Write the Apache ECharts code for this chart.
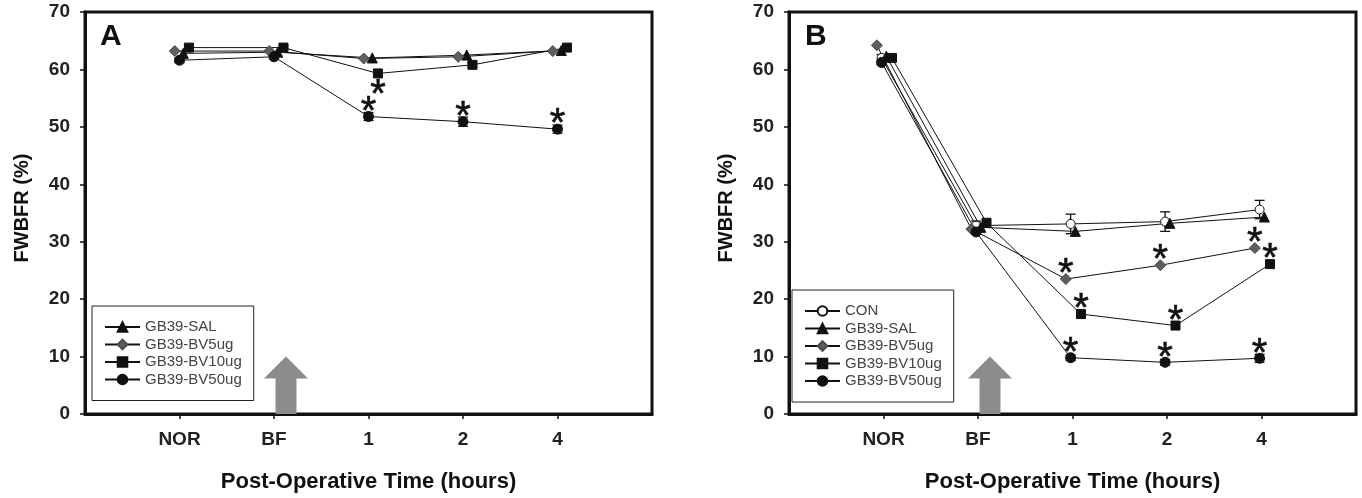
<!DOCTYPE html>
<html><head><meta charset="utf-8">
<script src="https://cdn.jsdelivr.net/npm/echarts@6/dist/echarts.min.js"></script>
<style>html,body{margin:0;padding:0;background:#fff}#c{width:1362px;height:498px}</style>
</head><body><div id="c"></div>
<script>
// ---------- DATA ----------
const categories = ['NOR', 'BF', '1', '2', '4'];
const yTicks = [0, 10, 20, 30, 40, 50, 60, 70];
const xAxisTitle = 'Post-Operative Time (hours)';
const yAxisTitle = 'FWBFR (%)';

// Panel A
const A_SAL  = [62.8, 63.0, 62.0, 62.5, 63.3];
const A_BV5  = [63.2, 63.2, 61.9, 62.2, 63.2];
const A_BV10 = [63.8, 63.8, 59.3, 60.8, 63.8];
const A_BV50 = [61.6, 62.2, 51.8, 50.9, 49.6];
const A_BV10_err = [0.3, 0.3, 0.4, 0.4, 0.5];
const A_BV50_err = [0.4, 0.4, 0.7, 0.8, 0.7];
const A_BV10_sig = [0, 0, 1, 0, 0];
const A_BV50_sig = [0, 0, 1, 1, 1];

// Panel B
const B_CON  = [62.0, 32.8, 33.1, 33.5, 35.6];
const B_SAL  = [62.3, 32.5, 31.8, 33.2, 34.3];
const B_BV5  = [64.2, 32.2, 23.5, 25.9, 28.9];
const B_BV10 = [62.0, 33.3, 17.4, 15.4, 26.1];
const B_BV50 = [61.2, 31.7, 9.8, 9.0, 9.7];
const B_CON_err  = [0.6, 0.8, 1.7, 1.7, 1.6];
const B_BV50_err = [0.4, 0.4, 0.5, 0.5, 0.7];
const B_BV5_sig  = [0, 0, 1, 1, 1];
const B_BV10_sig = [0, 0, 1, 1, 1];
const B_BV50_sig = [0, 0, 1, 1, 1];

const arrowAt = 'BF';
const arrowTip = 10;

// ---------- STYLE ----------
const FONT = '"Liberation Sans", Arial, sans-serif';
const INK = '#111';
const STY = {
  'CON':         {symbol: 'circle',   size: 9,  fill: '#ffffff', border: '#111'},
  'GB39-SAL':    {symbol: 'triangle', size: 10, fill: '#111',    border: '#111'},
  'GB39-BV5ug':  {symbol: 'diamond',  size: 11, fill: '#5e5e5e', border: '#4a4a4a'},
  'GB39-BV10ug': {symbol: 'rect',     size: 9,  fill: '#111',    border: '#111'},
  'GB39-BV50ug': {symbol: 'circle',   size: 10, fill: '#111',    border: '#111'}
};
const DODGE_A = {'GB39-SAL': 0.04, 'GB39-BV5ug': -0.05, 'GB39-BV10ug': 0.1, 'GB39-BV50ug': 0};
const DODGE_B = {'CON': -0.02, 'GB39-SAL': 0.03, 'GB39-BV5ug': -0.07, 'GB39-BV10ug': 0.09, 'GB39-BV50ug': -0.02};

function lineSeries(panel, name, vals, dodge) {
  const s = STY[name];
  return {
    type: 'line', name: name, xAxisIndex: panel, yAxisIndex: panel, z: 3,
    data: vals.map((v, i) => [i + 1 + dodge, v]),
    symbol: s.symbol, symbolSize: s.size, showAllSymbol: true,
    lineStyle: {color: INK, width: 1},
    itemStyle: {color: s.fill, borderColor: s.border, borderWidth: 1, opacity: 1},
    emphasis: {disabled: true}, animation: false
  };
}
function errSeries(panel, vals, errs, dodge) {
  return {
    type: 'custom', xAxisIndex: panel, yAxisIndex: panel, z: 2, silent: true, animation: false,
    encode: {x: 0, y: 1},
    data: vals.map((v, i) => [i + 1 + dodge, v, errs[i]]),
    renderItem: (params, api) => {
      const x = api.value(0), y = api.value(1), e = api.value(2);
      const t = api.coord([x, y + e]), b = api.coord([x, y - e]);
      const w = 5, st = {stroke: INK, lineWidth: 1.3};
      return {type: 'group', children: [
        {type: 'line', shape: {x1: t[0], y1: t[1], x2: b[0], y2: b[1]}, style: st},
        {type: 'line', shape: {x1: t[0] - w, y1: t[1], x2: t[0] + w, y2: t[1]}, style: st},
        {type: 'line', shape: {x1: b[0] - w, y1: b[1], x2: b[0] + w, y2: b[1]}, style: st}
      ]};
    }
  };
}
function starSeries(panel, vals, sig, dodge, dir) {
  const fs = 40;
  return {
    type: 'custom', xAxisIndex: panel, yAxisIndex: panel, z: 5, silent: true, animation: false,
    encode: {x: 0, y: 1},
    data: vals.map((v, i) => [i + 1 + dodge, v]).filter((d, i) => sig[i]),
    renderItem: (params, api) => {
      const p = api.coord([api.value(0), api.value(1)]);
      return {type: 'text', x: p[0], y: p[1] + dir * 13 + fs * 0.23,
        style: {text: '*', fontSize: fs, fontFamily: FONT, fill: INK, align: 'center', verticalAlign: 'middle',
          stroke: INK, lineWidth: 0.6}};
    }
  };
}
function arrowSeries(panel) {
  return {
    type: 'custom', xAxisIndex: panel, yAxisIndex: panel, z: 1, silent: true, animation: false,
    encode: {x: 0, y: 1},
    data: [[categories.indexOf(arrowAt) + 1, arrowTip]],
    renderItem: (params, api) => {
      const tip = api.coord([api.value(0), api.value(1)]);
      const base = api.coord([api.value(0), 0]);
      const cx = tip[0] + 12, hw = 22, bw = 10.5, hl = 22;
      return {type: 'polygon', shape: {points: [
        [cx, tip[1]], [cx + hw, tip[1] + hl], [cx + bw, tip[1] + hl], [cx + bw, base[1]],
        [cx - bw, base[1]], [cx - bw, tip[1] + hl], [cx - hw, tip[1] + hl]
      ]}, style: {fill: '#8c8c8c'}};
    }
  };
}

const tickVals = categories.map((c, i) => i + 1);
function xAx(i) {
  return {
    gridIndex: i, type: 'value', min: 0, max: 6, interval: 1,
    axisLine: {show: true, onZero: false, lineStyle: {color: INK, width: 3}},
    axisTick: {show: true, customValues: tickVals, length: 5, lineStyle: {color: INK, width: 1.5}},
    axisLabel: {customValues: tickVals, formatter: v => categories[Math.round(v) - 1] || '',
      fontSize: 19, fontWeight: 'bold', color: '#222', fontFamily: FONT, margin: 16},
    splitLine: {show: false},
    name: xAxisTitle, nameLocation: 'middle', nameGap: 57,
    nameTextStyle: {fontSize: 22, fontWeight: 'bold', color: '#111', fontFamily: FONT}
  };
}
function yAx(i) {
  return {
    gridIndex: i, type: 'value', min: yTicks[0], max: yTicks[yTicks.length - 1], interval: yTicks[1] - yTicks[0],
    axisLine: {show: true, lineStyle: {color: INK, width: 3}},
    axisTick: {show: true, length: 5, lineStyle: {color: INK, width: 1.5}},
    axisLabel: {fontSize: 19, fontWeight: 'bold', color: '#222', fontFamily: FONT, margin: 15},
    splitLine: {show: false},
    name: yAxisTitle, nameLocation: 'middle', nameGap: 53,
    nameTextStyle: {fontSize: 20, fontWeight: 'bold', color: '#111', fontFamily: FONT, padding: [0, 0, 0, 10]}
  };
}
function legend(left, top, names) {
  return {
    orient: 'vertical', left: left, top: top, data: names, selectedMode: false,
    borderColor: '#222', borderWidth: 1, padding: [13, 12, 13, 12],
    itemWidth: 35, itemHeight: 12, itemGap: 1.5,
    textStyle: {fontSize: 15, color: '#444', fontFamily: FONT, lineHeight: 16}
  };
}

const namesA = ['GB39-SAL', 'GB39-BV5ug', 'GB39-BV10ug', 'GB39-BV50ug'];
const namesB = ['CON', 'GB39-SAL', 'GB39-BV5ug', 'GB39-BV10ug', 'GB39-BV50ug'];
const seriesA = [A_SAL, A_BV5, A_BV10, A_BV50];
const seriesB = [B_CON, B_SAL, B_BV5, B_BV10, B_BV50];

const series = [arrowSeries(0), arrowSeries(1)];
namesA.forEach((n, k) => series.push(lineSeries(0, n, seriesA[k], DODGE_A[n])));
namesB.forEach((n, k) => series.push(lineSeries(1, n, seriesB[k], DODGE_B[n])));
series.push(errSeries(0, A_BV10, A_BV10_err, DODGE_A['GB39-BV10ug']));
series.push(errSeries(0, A_BV50, A_BV50_err, DODGE_A['GB39-BV50ug']));
series.push(errSeries(1, B_CON, B_CON_err, DODGE_B['CON']));
series.push(errSeries(1, B_BV50, B_BV50_err, DODGE_B['GB39-BV50ug']));
series.push(starSeries(0, A_BV10, A_BV10_sig, DODGE_A['GB39-BV10ug'], 1));
series.push(starSeries(0, A_BV50, A_BV50_sig, DODGE_A['GB39-BV50ug'], -1));
series.push(starSeries(1, B_BV5, B_BV5_sig, DODGE_B['GB39-BV5ug'], -1));
series.push(starSeries(1, B_BV10, B_BV10_sig, DODGE_B['GB39-BV10ug'], -1));
series.push(starSeries(1, B_BV50, B_BV50_sig, DODGE_B['GB39-BV50ug'], -1));

const chart = echarts.init(document.getElementById('c'), null, {renderer: 'canvas'});
chart.setOption({
  backgroundColor: '#ffffff',
  animation: false,
  textStyle: {fontFamily: FONT},
  grid: [
    {left: 85, top: 12, width: 567, height: 402, show: true, borderColor: INK, borderWidth: 3, backgroundColor: 'transparent'},
    {left: 789, top: 12, width: 567, height: 402, show: true, borderColor: INK, borderWidth: 3, backgroundColor: 'transparent'}
  ],
  xAxis: [xAx(0), xAx(1)],
  yAxis: [yAx(0), yAx(1)],
  legend: [legend(92, 306, namesA), legend(792, 290, namesB)],
  graphic: [
    {type: 'text', left: 100, top: 22, style: {text: 'A', fontSize: 30, fontWeight: 'bold', fill: '#111', fontFamily: FONT}},
    {type: 'text', left: 805, top: 22, style: {text: 'B', fontSize: 30, fontWeight: 'bold', fill: '#111', fontFamily: FONT}}
  ],
  series: series
});
</script>
</body></html>
